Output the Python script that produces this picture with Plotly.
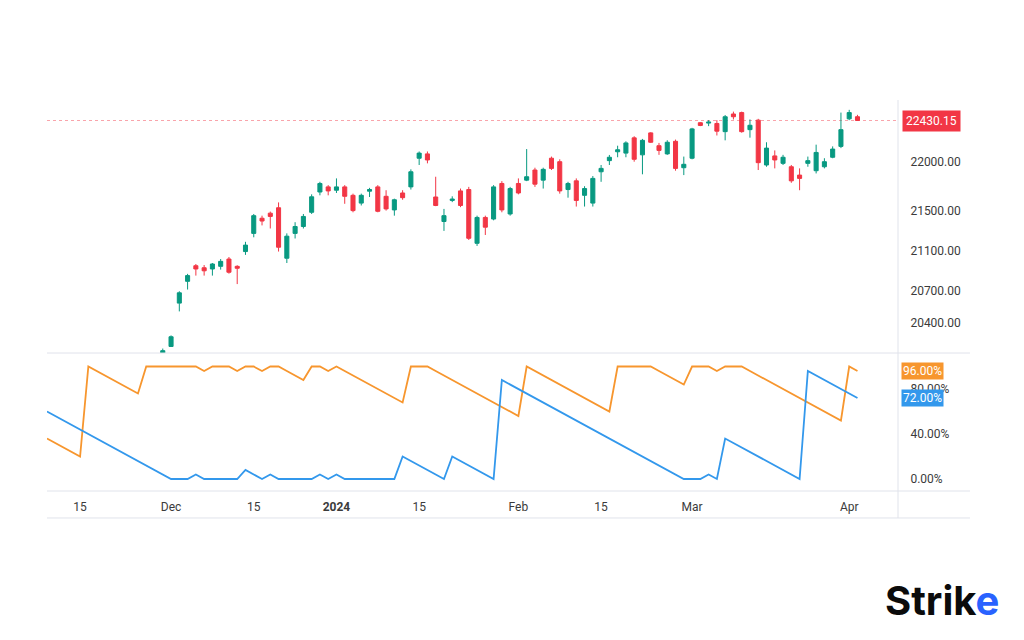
import math
import plotly.graph_objects as go

# ---------------- data ----------------
dates = [
    "2023-11-08", "2023-11-09", "2023-11-10", "2023-11-13", "2023-11-15", "2023-11-16", "2023-11-17",
    "2023-11-20", "2023-11-21", "2023-11-22", "2023-11-23", "2023-11-24", "2023-11-28", "2023-11-29",
    "2023-11-30", "2023-12-01", "2023-12-04", "2023-12-05", "2023-12-06", "2023-12-07", "2023-12-08",
    "2023-12-11", "2023-12-12", "2023-12-13", "2023-12-14", "2023-12-15", "2023-12-18", "2023-12-19",
    "2023-12-20", "2023-12-21", "2023-12-22", "2023-12-26", "2023-12-27", "2023-12-28", "2023-12-29",
    "2024-01-01", "2024-01-02", "2024-01-03", "2024-01-04", "2024-01-05", "2024-01-08", "2024-01-09",
    "2024-01-10", "2024-01-11", "2024-01-12", "2024-01-15", "2024-01-16", "2024-01-17", "2024-01-18",
    "2024-01-19", "2024-01-20", "2024-01-23", "2024-01-24", "2024-01-25", "2024-01-29", "2024-01-30",
    "2024-01-31", "2024-02-01", "2024-02-02", "2024-02-05", "2024-02-06", "2024-02-07", "2024-02-08",
    "2024-02-09", "2024-02-12", "2024-02-13", "2024-02-14", "2024-02-15", "2024-02-16", "2024-02-19",
    "2024-02-20", "2024-02-21", "2024-02-22", "2024-02-23", "2024-02-26", "2024-02-27", "2024-02-28",
    "2024-02-29", "2024-03-01", "2024-03-02", "2024-03-04", "2024-03-05", "2024-03-06", "2024-03-07",
    "2024-03-11", "2024-03-12", "2024-03-13", "2024-03-14", "2024-03-15", "2024-03-18", "2024-03-19",
    "2024-03-20", "2024-03-21", "2024-03-22", "2024-03-26", "2024-03-27", "2024-03-28", "2024-04-01",
    "2024-04-02",
]

aroon_up = [
    36, 32, 28, 24, 20, 100, 96, 92, 88, 84, 80, 76, 100, 100, 100, 100, 100, 100, 100, 96,
    100, 100, 100, 96, 100, 100, 96, 100, 100, 96, 92, 88, 100, 100, 96, 100, 96, 92, 88, 84,
    80, 76, 72, 68, 100, 100, 100, 96, 92, 88, 84, 80, 76, 72, 68, 64, 60, 56, 100, 96,
    92, 88, 84, 80, 76, 72, 68, 64, 60, 100, 100, 100, 100, 100, 96, 92, 88, 84, 100, 100,
    100, 96, 100, 100, 100, 96, 92, 88, 84, 80, 76, 72, 68, 64, 60, 56, 52, 100, 96,
]

aroon_down = [
    60, 56, 52, 48, 44, 40, 36, 32, 28, 24, 20, 16, 12, 8, 4, 0, 0, 0, 4, 0,
    0, 0, 0, 0, 8, 4, 0, 4, 0, 0, 0, 0, 0, 4, 0, 4, 0, 0, 0, 0,
    0, 0, 0, 20, 16, 12, 8, 4, 0, 20, 16, 12, 8, 4, 0, 88, 84, 80, 76, 72,
    68, 64, 60, 56, 52, 48, 44, 40, 36, 32, 28, 24, 20, 16, 12, 8, 4, 0, 0, 0,
    4, 0, 36, 32, 28, 24, 20, 16, 12, 8, 4, 0, 96, 92, 88, 84, 80, 76, 72,
]

candle_dates = dates[14:]
opens = [
    20090, 20170, 20585, 20797, 20950, 20930, 20918, 20944, 21016, 20944, 21090, 21271, 21423, 21474,
    21529, 21024, 21271, 21340, 21483, 21689, 21741, 21707, 21741, 21655, 21576, 21697, 21741, 21645,
    21507, 21679, 21741, 22036, 22081, 21638, 21390, 21603, 21700, 21714, 21172, 21431, 21415, 21776,
    21466, 21776, 21810, 21914, 21810, 22036, 22000, 21714, 21803, 21655, 21576, 21896, 22011, 22103,
    22089, 22248, 22071, 22300, 22166, 22081, 22212, 21938, 22036, 22407, 22403, 22399, 22313, 22499,
    22514, 22334, 22434, 21966, 22060, 21983, 21948, 21862, 21983, 21907, 21948, 22046, 22159, 22448,
    22470,
]
highs = [
    20150, 20275, 20700, 20870, 20967, 20957, 20977, 21016, 21036, 20955, 21187, 21466, 21449, 21490,
    21583, 21271, 21383, 21466, 21665, 21793, 21759, 21828, 21759, 21672, 21672, 21731, 21759, 21707,
    21621, 21707, 21921, 22106, 22106, 21845, 21517, 21645, 21724, 21741, 21449, 21449, 21759, 21800,
    21741, 21828, 22131, 21938, 21938, 22053, 22025, 21793, 21828, 21748, 21852, 21966, 22070, 22166,
    22212, 22265, 22237, 22307, 22195, 22223, 22230, 22053, 22353, 22413, 22434, 22434, 22488, 22524,
    22524, 22441, 22448, 22202, 22117, 22071, 21966, 21931, 22053, 22177, 22036, 22159, 22514, 22543,
    22490,
]
lows = [
    20020, 20165, 20505, 20717, 20853, 20853, 20853, 20912, 20872, 20770, 21057, 21232, 21351, 21320,
    21090, 20977, 21220, 21320, 21466, 21655, 21655, 21679, 21569, 21483, 21552, 21638, 21483, 21500,
    21449, 21610, 21714, 21966, 21983, 21545, 21296, 21586, 21535, 21205, 21146, 21255, 21402, 21483,
    21449, 21665, 21800, 21741, 21724, 21914, 21672, 21631, 21541, 21541, 21541, 21793, 21966, 22046,
    22046, 22000, 21870, 22195, 22071, 22071, 21907, 21862, 22025, 22371, 22371, 22273, 22222, 22441,
    22302, 22250, 21914, 21948, 21931, 21966, 21783, 21707, 21948, 21879, 21931, 22036, 22141, 22434,
    22428,
]
closes = [
    20130, 20262, 20685, 20853, 20918, 20900, 20967, 20993, 20886, 20925, 21154, 21449, 21395, 21441,
    21133, 21243, 21340, 21441, 21640, 21776, 21700, 21741, 21645, 21500, 21655, 21714, 21493, 21517,
    21610, 21631, 21896, 22089, 22018, 21552, 21449, 21617, 21552, 21222, 21431, 21333, 21741, 21507,
    21724, 21679, 21845, 21769, 21921, 21931, 21700, 21776, 21603, 21724, 21828, 21931, 22046, 22124,
    22195, 22025, 22222, 22202, 22117, 22202, 21931, 21973, 22342, 22378, 22413, 22318, 22470, 22470,
    22313, 22380, 21990, 22141, 22018, 22046, 21803, 21828, 22011, 22096, 22000, 22131, 22334, 22514,
    22430.15,
]

price_ticks = [20400, 20700, 21100, 21500, 22000]
price_tick_text = ["20400.00", "20700.00", "21100.00", "21500.00", "22000.00"]
ind_ticks = [0, 40, 80]
ind_tick_text = ["0.00%", "40.00%", "80.00%"]
x_tick_dates = ["2023-11-15", "2023-12-01", "2023-12-15", "2024-01-01", "2024-01-15",
                "2024-02-01", "2024-02-15", "2024-03-01", "2024-04-01"]
x_tick_text = ["15", "Dec", "15", "<b>2024</b>", "15", "Feb", "15", "Mar", "Apr"]

UP = "#089981"
DOWN = "#F23645"
ORANGE = "#F7962E"
BLUE = "#3398EC"
GRID = "#E0E3EB"
TXT = "#3b3b3b"

last = closes[-1]

fig = go.Figure()

fig.add_trace(go.Candlestick(
    x=candle_dates, open=opens, high=highs, low=lows, close=closes,
    xaxis="x", yaxis="y",
    increasing=dict(line=dict(color=UP, width=1), fillcolor=UP),
    decreasing=dict(line=dict(color=DOWN, width=1), fillcolor=DOWN),
    whiskerwidth=0, showlegend=False, hoverinfo="skip",
))

fig.add_trace(go.Scatter(
    x=dates, y=aroon_up, mode="lines", xaxis="x", yaxis="y2",
    line=dict(color=ORANGE, width=1.8), showlegend=False, hoverinfo="skip",
))
fig.add_trace(go.Scatter(
    x=dates, y=aroon_down, mode="lines", xaxis="x", yaxis="y2",
    line=dict(color=BLUE, width=1.8), showlegend=False, hoverinfo="skip",
))

split = 0.3529
ext = 1.0846
low_line = -0.069

fig.update_layout(
    width=1024, height=640,
    margin=dict(l=47, r=126, t=100, b=149),
    paper_bgcolor="white", plot_bgcolor="white",
    font=dict(family="Roboto, Inter, sans-serif", size=12, color=TXT),
    xaxis=dict(
        type="category", categoryorder="array", categoryarray=dates,
        range=[0, 102.9], anchor="y2",
        tickvals=x_tick_dates, ticktext=x_tick_text,
        ticks="outside", ticklen=5, tickcolor="rgba(0,0,0,0)",
        showgrid=False, zeroline=False, showline=False,
        rangeslider=dict(visible=False),
        tickfont=dict(size=12, color=TXT),
    ),
    yaxis=dict(
        type="log", domain=[split, 1], side="right", anchor="x",
        range=[math.log10(20107.7), math.log10(22647.5)],
        tickvals=price_ticks, ticktext=price_tick_text,
        ticks="outside", ticklen=9, tickcolor="rgba(0,0,0,0)",
        showgrid=False, zeroline=False, showline=False,
        tickfont=dict(size=12, color=TXT),
    ),
    yaxis2=dict(
        domain=[0, split], side="right", anchor="x",
        range=[-10.67, 112],
        tickvals=ind_ticks, ticktext=ind_tick_text,
        ticks="outside", ticklen=9, tickcolor="rgba(0,0,0,0)",
        showgrid=False, zeroline=False, showline=False,
        tickfont=dict(size=12, color=TXT),
    ),
)

shapes = [
    dict(type="line", xref="paper", yref="paper", x0=0, x1=ext, y0=split, y1=split,
         line=dict(color=GRID, width=1)),
    dict(type="line", xref="paper", yref="paper", x0=0, x1=ext, y0=0, y1=0,
         line=dict(color=GRID, width=1)),
    dict(type="line", xref="paper", yref="paper", x0=0, x1=ext, y0=low_line, y1=low_line,
         line=dict(color=GRID, width=1)),
    dict(type="line", xref="paper", yref="paper", x0=1, x1=1, y0=low_line, y1=1,
         line=dict(color=GRID, width=1)),
    dict(type="line", xref="paper", yref="y", x0=0, x1=1, y0=last, y1=last,
         line=dict(color="rgba(242,54,69,0.45)", width=1, dash="dot"), layer="below"),
]
fig.update_layout(shapes=shapes)

annotations = [
    dict(xref="paper", yref="y", x=1.005, y=math.log10(last), xanchor="left", yanchor="middle",
         text=f"{last:.2f}", showarrow=False, bgcolor=DOWN, borderpad=3,
         font=dict(color="white", size=12)),
    dict(xref="paper", yref="y2", x=1.003, y=aroon_up[-1], xanchor="left", yanchor="middle",
         text=f"{aroon_up[-1]:.2f}%", showarrow=False, bgcolor=ORANGE, borderpad=1,
         font=dict(color="white", size=12)),
    dict(xref="paper", yref="y2", x=1.003, y=aroon_down[-1], xanchor="left", yanchor="middle",
         text=f"{aroon_down[-1]:.2f}%", showarrow=False, bgcolor=BLUE, borderpad=1,
         font=dict(color="white", size=12)),
    dict(xref="paper", yref="paper", x=1.0517, y=-0.2788, xanchor="center", yanchor="middle",
         text="<b>Strik<span style='color:#2962FF'>e</span></b>", showarrow=False,
         font=dict(family="Inter, Roboto, sans-serif", size=40, color="#0b0b0b")),
]
fig.update_layout(annotations=annotations)

fig.write_html("out.html")
